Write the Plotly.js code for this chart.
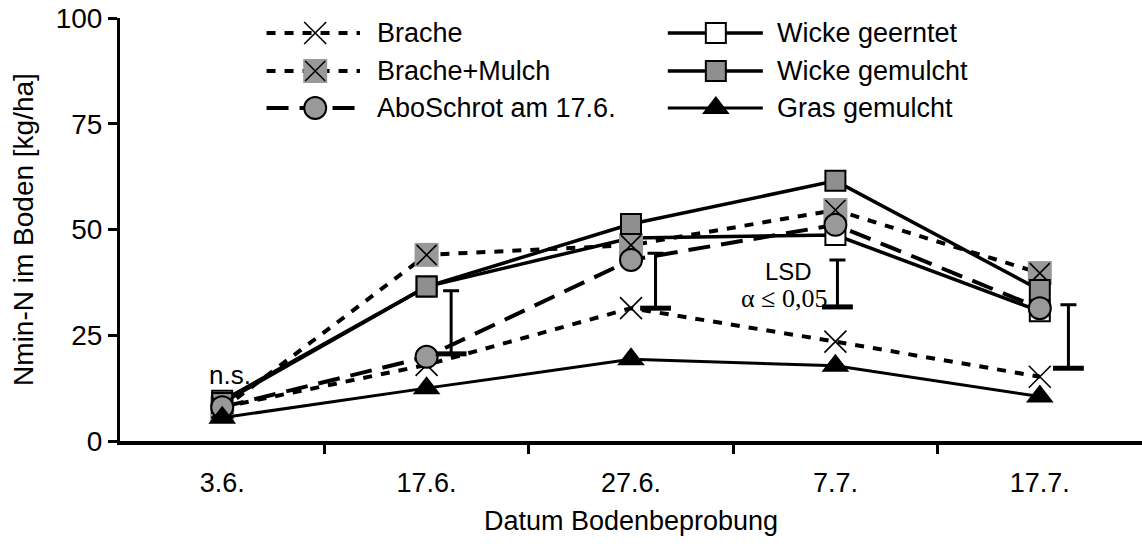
<!DOCTYPE html>
<html><head><meta charset="utf-8">
<script src="https://cdn.plot.ly/plotly-3.0.1.min.js"></script>
<style>html,body{margin:0;padding:0;background:#fff}</style>
</head><body><div id="chart" style="width:1142px;height:547px"></div>
<script>
// ---- data ----
const dates = ['3.6.', '17.6.', '27.6.', '7.7.', '17.7.'];
const seriesNames = ['Brache', 'Brache+Mulch', 'AboSchrot am 17.6.', 'Wicke geerntet', 'Wicke gemulcht', 'Gras gemulcht'];
const brache        = [8.0, 18.0, 31.4, 23.5, 15.2];
const bracheMulch   = [7.5, 44.0, 46.3, 54.6, 39.7];
const aboSchrot     = [8.0, 19.9, 42.8, 51.1, 31.4];
const wickeGeerntet = [9.5, 36.5, 48.0, 48.7, 30.7];
const wickeGemulcht = [9.0, 36.5, 51.3, 61.5, 35.7];
const grasGemulcht  = [5.5, 12.5, 19.3, 17.8, 10.5];
const lsdDates = ['17.6.', '27.6.', '7.7.', '17.7.'];
const lsdLow   = [20.6, 31.4, 31.7, 17.2];
const lsdHigh  = [35.5, 44.4, 42.8, 32.2];
const yTicks = [0, 25, 50, 75, 100];

// ---- styles / layout helpers ----
const FONT = 'Liberation Sans, Arial, sans-serif';
const xs = dates.map((d, i) => i);
const lsdShift = [0.12, 0.12, 0.01, 0.14];
const lsdX = lsdDates.map((d, i) => dates.indexOf(d) + lsdShift[i]);
const GRAY = '#999999';
const DOT = '9px,9px';
const LDASH = '22px,11px';

const styles = {
  'Brache':            {y: brache,        line: {color: 'black', width: 4, dash: DOT},   markers: [{symbol: 'x-thin', size: 22, line: {color: 'black', width: 1.6}}]},
  'Brache+Mulch':      {y: bracheMulch,   line: {color: 'black', width: 4, dash: DOT},   markers: [{symbol: 'square', size: 24, color: GRAY, line: {width: 0}}, {symbol: 'x-thin', size: 20, line: {color: 'black', width: 1.6}}]},
  'AboSchrot am 17.6.':{y: aboSchrot,     line: {color: 'black', width: 4, dash: LDASH}, markers: [{symbol: 'circle', size: 22, color: GRAY, line: {color: 'black', width: 2}}]},
  'Wicke geerntet':    {y: wickeGeerntet, line: {color: 'black', width: 3.5},            markers: [{symbol: 'square', size: 20, color: 'white', line: {color: 'black', width: 2}}]},
  'Wicke gemulcht':    {y: wickeGemulcht, line: {color: 'black', width: 3.5},            markers: [{symbol: 'square', size: 20, color: '#8f8f8f', line: {color: 'black', width: 2}}]},
  'Gras gemulcht':     {y: grasGemulcht,  line: {color: 'black', width: 3},              markers: [{symbol: 'triangle-up', size: 24, color: 'black', line: {width: 0}}]}
};
const drawOrder = ['Wicke geerntet', 'Brache+Mulch', 'Wicke gemulcht', 'Brache', 'AboSchrot am 17.6.', 'Gras gemulcht'];

const traces = [];
drawOrder.forEach(name => {
  const s = styles[name];
  traces.push({x: xs, y: s.y, mode: 'lines', line: s.line, showlegend: false, hoverinfo: 'skip'});
  s.markers.forEach(m => traces.push({x: xs, y: s.y, mode: 'markers', marker: m, showlegend: false, cliponaxis: false, name: name}));
});

// LSD bars
traces.push({
  x: lsdX, y: lsdLow, mode: 'markers', showlegend: false, cliponaxis: false,
  marker: {symbol: 'line-ew', size: 22, line: {color: 'black', width: 5}},
  error_y: {type: 'data', symmetric: false, array: lsdHigh.map((h, i) => h - lsdLow[i]), arrayminus: lsdLow.map(() => 0), color: 'black', thickness: 3, width: 8}
});

// custom legend (in plot-fraction coordinates on an overlay axis)
const legCols = [{x0: 0.1434, xc: 0.191, x1: 0.2348, tx: 0.2495}, {x0: 0.536, xc: 0.583, x1: 0.629, tx: 0.641}];
const legRows = [0.9645, 0.8747, 0.7872];
const annotations = [];
seriesNames.forEach((name, i) => {
  const c = legCols[Math.floor(i / 3)], r = legRows[i % 3], s = styles[name];
  traces.push({x: [c.x0, c.x1], y: [r, r], xaxis: 'x2', yaxis: 'y2', mode: 'lines', line: s.line, showlegend: false, hoverinfo: 'skip'});
  s.markers.forEach(m => traces.push({x: [c.xc], y: [r], xaxis: 'x2', yaxis: 'y2', mode: 'markers', marker: m, showlegend: false, cliponaxis: false}));
  annotations.push({xref: 'paper', yref: 'paper', x: c.tx, y: r, text: name, showarrow: false, xanchor: 'left', yanchor: 'middle', font: {family: FONT, size: 27, color: 'black'}});
});

annotations.push({xref: 'x', yref: 'y', x: 0.04, y: 15.5, text: 'n.s.', showarrow: false, font: {family: FONT, size: 26, color: 'black'}});
annotations.push({xref: 'x', yref: 'y', x: 2.77, y: 40, text: 'LSD', showarrow: false, font: {family: FONT, size: 24, color: 'black'}});
annotations.push({xref: 'x', yref: 'y', x: 2.75, y: 33.8, text: 'α ≤ 0,05', showarrow: false, font: {family: 'Liberation Serif, Times New Roman, serif', size: 26, color: 'black'}});

const layout = {
  width: 1142, height: 547,
  margin: {l: 120, r: 0, t: 18, b: 106},
  paper_bgcolor: 'white', plot_bgcolor: 'white',
  showlegend: false,
  font: {family: FONT, size: 27, color: 'black'},
  xaxis: {
    range: [-0.5, 4.5], tickmode: 'array', tickvals: xs, ticktext: dates, ticks: '',
    showline: true, linecolor: 'black', linewidth: 4, showgrid: false, zeroline: false,
    ticklabelstandoff: 15,
    tickfont: {family: FONT, size: 27, color: 'black'},
    minor: {tickmode: 'array', tickvals: [0.5, 1.5, 2.5, 3.5], ticks: 'outside', ticklen: 9, tickwidth: 3, tickcolor: 'black', showgrid: false},
    title: {text: 'Datum Bodenbeprobung', font: {family: FONT, size: 27, color: 'black'}, standoff: 15}
  },
  yaxis: {
    range: [0, 100], tickmode: 'array', tickvals: yTicks, ticks: 'outside', ticklen: 9, tickwidth: 3, tickcolor: 'black',
    showline: true, linecolor: 'black', linewidth: 3, showgrid: false, zeroline: false,
    tickfont: {family: FONT, size: 28, color: 'black'},
    title: {text: 'Nmin-N im Boden [kg/ha]', font: {family: FONT, size: 28, color: 'black'}, standoff: 14}
  },
  xaxis2: {domain: [0, 1], range: [0, 1], overlaying: 'x', visible: false, fixedrange: true},
  yaxis2: {domain: [0, 1], range: [0, 1], overlaying: 'y', visible: false, fixedrange: true},
  annotations: annotations
};

Plotly.newPlot('chart', traces, layout, {staticPlot: true, displayModeBar: false});
</script></body></html>
